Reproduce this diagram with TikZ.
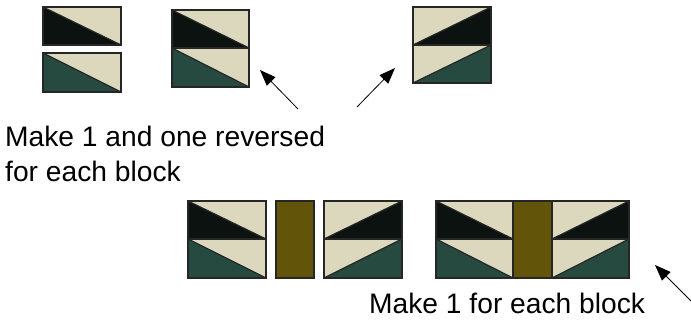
\documentclass[tikz,border=0pt]{standalone}
\usepackage{fontspec}
\setmainfont{Liberation Sans}
\usetikzlibrary{arrows.meta}
\definecolor{cream}{RGB}{220,216,190}
\definecolor{darkk}{RGB}{12,18,16}
\definecolor{dgreen}{RGB}{38,74,64}
\definecolor{brownq}{RGB}{98,84,8}
\tikzset{
  edge/.style={draw=black!85, line width=1.2pt, line join=miter},
  pointer/.style={draw=black, line width=0.8pt, -{Triangle[length=16pt,width=12pt]}},
  label/.style={anchor=base west, inner sep=0pt, font=\fontsize{28.2}{35}\selectfont}
}
% half-square: diagonal top-left to bottom-right, coloured part lower-left
\newcommand\hstL[5]{%
  \fill[cream] (#1,#2) rectangle (#3,#4);
  \fill[#5] (#1,#2) -- (#1,#4) -- (#3,#4) -- cycle;
  \draw[edge] (#1,#2) rectangle (#3,#4);
  \draw[edge] (#1,#2) -- (#3,#4);}
% half-square: diagonal bottom-left to top-right, coloured part lower-right
\newcommand\hstR[5]{%
  \fill[cream] (#1,#2) rectangle (#3,#4);
  \fill[#5] (#1,#4) -- (#3,#2) -- (#3,#4) -- cycle;
  \draw[edge] (#1,#2) rectangle (#3,#4);
  \draw[edge] (#1,#4) -- (#3,#2);}
\newcommand\barq[4]{%
  \fill[brownq] (#1,#2) rectangle (#3,#4);
  \draw[edge] (#1,#2) rectangle (#3,#4);}
\begin{document}
\begin{tikzpicture}[x=1pt,y=-1pt]
\useasboundingbox (0,0) rectangle (691,324);
% first pair, separated
\hstL{43}{7}{121}{45}{darkk}
\hstL{43}{53}{121}{92}{dgreen}
% first unit
\hstL{172}{10}{249}{48}{darkk}
\hstL{172}{48}{249}{87}{dgreen}
% reversed unit
\hstR{413}{7}{491}{45}{darkk}
\hstR{413}{45}{491}{83}{dgreen}
% bottom row, separated
\hstL{188}{201}{266}{239}{darkk}
\hstL{188}{239}{266}{278}{dgreen}
\barq{276}{201}{314}{278}
\hstR{324}{201}{402}{239}{darkk}
\hstR{324}{239}{402}{278}{dgreen}
% bottom row, joined
\hstL{436}{201}{513}{239}{darkk}
\hstL{436}{239}{513}{278}{dgreen}
\barq{513}{201}{552}{278}
\hstR{552}{201}{629}{239}{darkk}
\hstR{552}{239}{629}{278}{dgreen}
% labels
\node[label] (t1) at (5,146) {Make 1 and one reversed};
\node[label] (t2) at (5,181) {for each block};
\node[label] (t3) at (369,313) {Make 1 for each block};
% arrows
\coordinate (a1s) at (298,109); \coordinate (a1e) at (260,70);
\coordinate (a2s) at (357,107); \coordinate (a2e) at (395,68);
\coordinate (a3s) at (692,302); \coordinate (a3e) at (655,265);
\draw[pointer] (a1s) -- (a1e);
\draw[pointer] (a2s) -- (a2e);
\draw[pointer] (a3s) -- (a3e);
\end{tikzpicture}
\end{document}
